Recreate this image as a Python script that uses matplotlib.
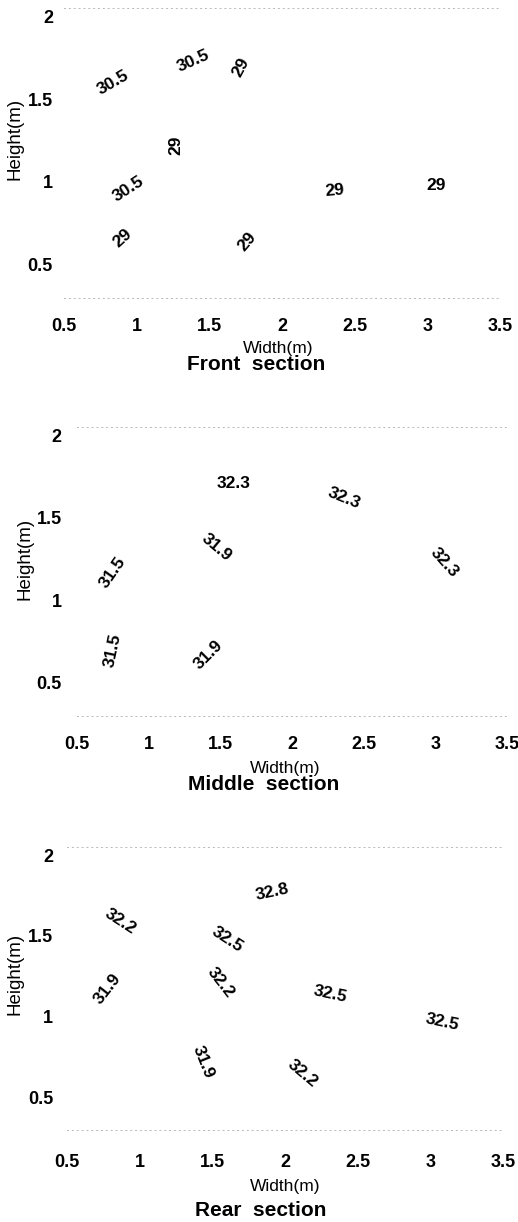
import matplotlib
matplotlib.use("Agg")
import matplotlib.pyplot as plt

plt.rcParams['font.family'] = ['Liberation Sans', 'DejaVu Sans']

sections = ['Front  section', 'Middle  section', 'Rear  section']

# contour labels: x (m), y (m), value, angle of the label
front_x = [0.84, 1.39, 1.72, 1.27, 0.94, 0.90, 1.76, 2.36, 3.06]
front_y = [1.60, 1.73, 1.69, 1.22, 0.96, 0.66, 0.64, 0.95, 0.98]
front_val = ['30.5', '30.5', '29', '29', '30.5', '29', '29', '29', '29']
front_rot = [30, 24, 62, 90, 33, 42, 50, 5, 0]

middle_x = [1.59, 2.36, 1.47, 3.06, 0.75, 0.75, 1.42]
middle_y = [1.71, 1.62, 1.32, 1.23, 1.17, 0.70, 0.67]
middle_val = ['32.3', '32.3', '31.9', '32.3', '31.5', '31.5', '31.9']
middle_rot = [0, -22, -40, -48, 55, 78, 45]

rear_x = [1.91, 0.87, 1.60, 0.78, 1.56, 2.31, 3.08, 1.44, 2.12]
rear_y = [1.77, 1.59, 1.48, 1.17, 1.21, 1.14, 0.97, 0.72, 0.65]
rear_val = ['32.8', '32.2', '32.5', '31.9', '32.2', '32.5', '32.5', '31.9', '32.2']
rear_rot = [12, -33, -33, 52, -52, -12, -12, -68, -40]

xticks = [0.5, 1, 1.5, 2, 2.5, 3, 3.5]
xtick_labels = ['0.5', '1', '1.5', '2', '2.5', '3', '3.5']
yticks = [0.5, 1, 1.5, 2]
ytick_labels = ['0.5', '1', '1.5', '2']

panels = [
    (front_x, front_y, front_val, front_rot),
    (middle_x, middle_y, middle_val, middle_rot),
    (rear_x, rear_y, rear_val, rear_rot),
]

W, H = 518, 1222
fig = plt.figure(figsize=(W / 100, H / 100), dpi=100)

# axes boxes in pixels: left, right, top, bottom
boxes = [(64, 500, 8, 298), (77, 507, 427, 716), (67, 503, 847, 1130)]
xpads = [14.5, 14.5, 17.5]
ypads = [8, 11, 10]
ylab_pos = [(15, 139), (25, 559), (15, 974)]
xlab_pos = [(278, 348), (285, 768), (285, 1186)]
title_pos = [(256, 364), (264, 785), (261, 1211)]

for i, (xs, ys, vals, rots) in enumerate(panels):
    l, r, t, b = boxes[i]
    ax = fig.add_axes([l / W, 1 - b / H, (r - l) / W, (b - t) / H])
    ax.set_xlim(0.5, 3.5)
    ax.set_ylim(0.3, 2.05)

    for x, y, v, rot in zip(xs, ys, vals, rots):
        ax.text(x, y, v, rotation=rot, rotation_mode='anchor',
                ha='center', va='center', fontsize=12.5, fontweight='bold')

    ax.set_xticks(xticks)
    ax.set_xticklabels(xtick_labels, fontweight='bold')
    ax.set_yticks(yticks)
    ax.set_yticklabels(ytick_labels, fontweight='bold')
    ax.tick_params(axis='x', length=0, labelsize=13, pad=xpads[i])
    ax.tick_params(axis='y', length=0, labelsize=13, pad=ypads[i])

    for side in ['left', 'right']:
        ax.spines[side].set_visible(False)
    for side in ['top', 'bottom']:
        ax.spines[side].set_color('#b8b8b8')
        ax.spines[side].set_linewidth(0.7)
        ax.spines[side].set_linestyle((0, (1, 4)))

    w = r - l
    h = b - t
    ax.set_ylabel('Height(m)', fontsize=13.5, va='center', ha='center')
    ax.yaxis.set_label_coords((ylab_pos[i][0] - l) / w, (b - ylab_pos[i][1]) / h)
    ax.set_xlabel('Width(m)', fontsize=12.5, va='center', ha='center')
    ax.xaxis.set_label_coords((xlab_pos[i][0] - l) / w, (b - xlab_pos[i][1]) / h)
    ax.text((title_pos[i][0] - l) / w, (b - title_pos[i][1]) / h, sections[i],
            transform=ax.transAxes, ha='center', va='center', fontsize=15,
            fontweight='bold')

fig.savefig('out.png', dpi=100)
